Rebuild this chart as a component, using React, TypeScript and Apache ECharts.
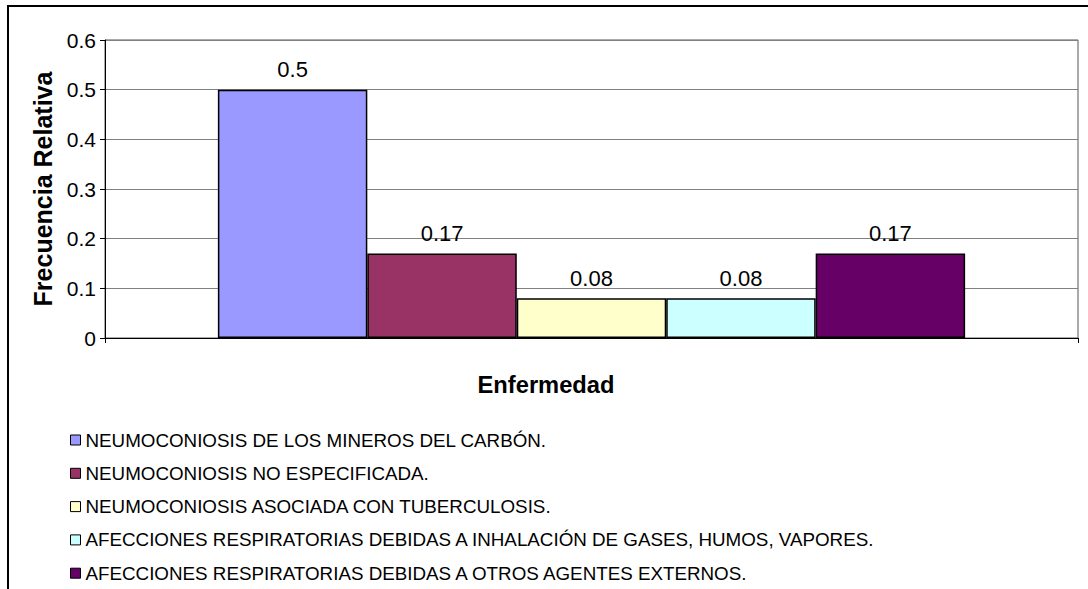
import React, { useEffect, useRef } from "react";
import * as echarts from "echarts";

const categories = [""];
const seriesNames = [
  "NEUMOCONIOSIS DE LOS MINEROS DEL CARBÓN.",
  "NEUMOCONIOSIS NO ESPECIFICADA.",
  "NEUMOCONIOSIS ASOCIADA CON TUBERCULOSIS.",
  "AFECCIONES RESPIRATORIAS DEBIDAS A INHALACIÓN DE GASES, HUMOS, VAPORES.",
  "AFECCIONES RESPIRATORIAS DEBIDAS A OTROS AGENTES EXTERNOS.",
];
const seriesValues = [0.5, 0.17, 0.08, 0.08, 0.17];
const seriesColors = ["#9999FF", "#993366", "#FFFFCC", "#CCFFFF", "#660066"];
const yTickLabels = ["0", "0.1", "0.2", "0.3", "0.4", "0.5", "0.6"];

const FONT = "'Liberation Sans', Arial, sans-serif";

export default function App() {
  const ref = useRef<HTMLDivElement>(null);
  useEffect(() => {
    if (!ref.current) return;
    const chart = echarts.init(ref.current, null, { renderer: "svg" });
    chart.setOption({
      animation: false,
      backgroundColor: "#ffffff",
      textStyle: { fontFamily: FONT },
      grid: {
        left: 105,
        right: 10,
        top: 40,
        height: 298,
        show: true,
        borderColor: "#555555",
        borderWidth: 1,
        containLabel: false,
      },
      legend: {
        orient: "vertical",
        left: 70,
        top: 430,
        padding: 0,
        icon: "rect",
        itemWidth: 10,
        itemHeight: 10,
        itemGap: 13.3,
        itemStyle: { borderColor: "#000", borderWidth: 1 },
        textStyle: {
          fontFamily: FONT,
          fontSize: 18.8,
          lineHeight: 20,
          color: "#000",
        },
        data: seriesNames,
      },
      xAxis: {
        type: "category",
        data: categories,
        axisLine: { show: true, lineStyle: { color: "#000", width: 1 } },
        axisTick: { show: true, length: 5, lineStyle: { color: "#000" } },
        axisLabel: { show: false },
        splitLine: { show: false },
      },
      yAxis: {
        type: "value",
        min: 0,
        max: 0.6,
        interval: 0.1,
        name: "Frecuencia Relativa",
        nameLocation: "middle",
        nameGap: 50,
        nameTextStyle: {
          fontFamily: FONT,
          fontSize: 25,
          fontWeight: "bold",
          color: "#000",
        },
        axisLine: { show: true, lineStyle: { color: "#000", width: 1 } },
        axisTick: { show: true, length: 5, lineStyle: { color: "#000" } },
        axisLabel: {
          margin: 9,
          fontFamily: FONT,
          fontSize: 21,
          color: "#000",
          formatter: (v: number) => yTickLabels[Math.round(v * 10)] ?? String(v),
        },
        splitLine: { show: true, lineStyle: { color: "#808080", width: 1 } },
      },
      graphic: [
        {
          type: "rect",
          shape: { x: 8, y: 6, width: 1200, height: 700 },
          style: { fill: "none", stroke: "#000", lineWidth: 2 },
          silent: true,
          z: 100,
        },
        {
          type: "text",
          x: 546,
          y: 385,
          style: {
            text: "Enfermedad",
            fontFamily: FONT,
            fontSize: 23.7,
            fontWeight: "bold",
            fill: "#000",
            textAlign: "center",
            textVerticalAlign: "middle",
          },
        },
      ],
      series: seriesNames.map((name, i) => ({
        name,
        type: "bar",
        data: [seriesValues[i]],
        barGap: "0%",
        barCategoryGap: "23.2%",
        itemStyle: {
          color: seriesColors[i],
          borderColor: "#000",
          borderWidth: 1.5,
        },
        label: {
          show: true,
          position: "top",
          distance: 9,
          fontFamily: FONT,
          fontSize: 22,
          color: "#000",
          formatter: () => String(seriesValues[i]),
        },
      })),
    });
    return () => chart.dispose();
  }, []);
  return (
    <div
      ref={ref}
      style={{ position: "fixed", left: 0, top: 0, width: 1088, height: 589 }}
    />
  );
}
